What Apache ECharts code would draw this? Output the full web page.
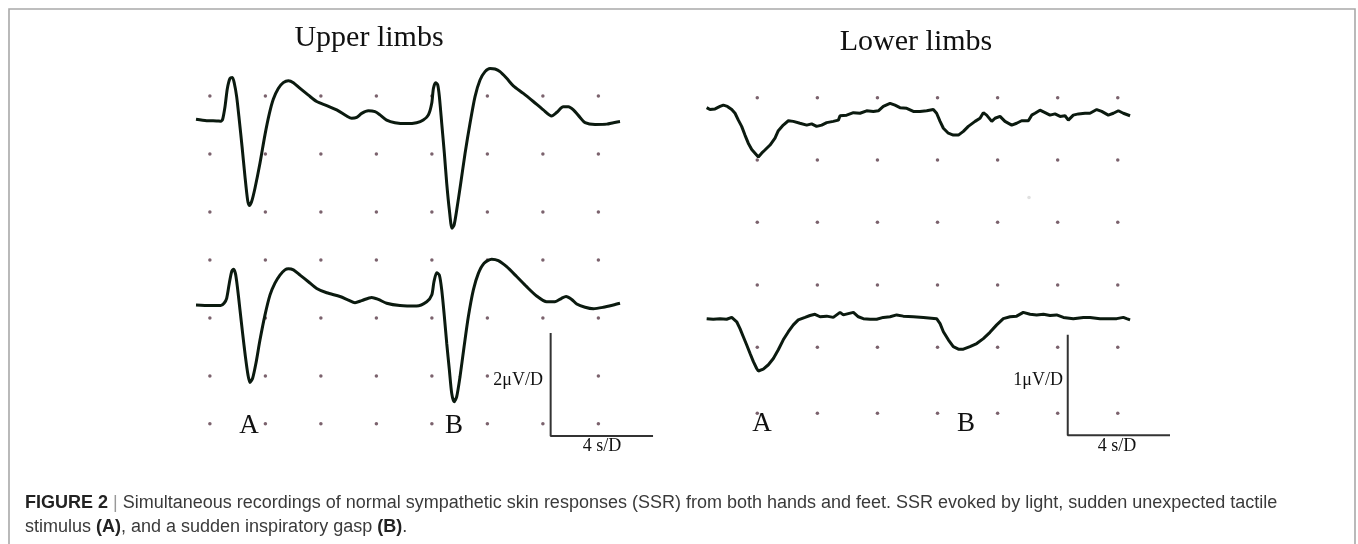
<!DOCTYPE html>
<html><head><meta charset="utf-8">
<script src="https://cdn.jsdelivr.net/npm/echarts/dist/echarts.min.js"></script>
<style>html,body{margin:0;padding:0;background:#fff}#c{width:1358px;height:544px}</style>
</head><body><div id="c"></div>
<script>
// ---- data (time in s, amplitude in µV) ----
const upperTrace1 = [[0,1.20],[0.77,1.15],[1.49,1.14],[1.78,1.13],[1.92,1.20],[2.09,1.63],[2.26,2.26],[2.45,2.61],[2.62,2.64],[2.76,2.44],[2.93,1.98],[3.12,1.17],[3.32,0.25],[3.53,-0.78],[3.72,-1.59],[3.84,-1.78],[4.01,-1.64],[4.25,-1.18],[4.61,-0.32],[4.97,0.66],[5.29,1.40],[5.57,1.89],[5.93,2.26],[6.29,2.46],[6.66,2.53],[7.02,2.46],[7.50,2.26],[8.10,2.03],[8.70,1.81],[9.42,1.67],[10.14,1.52],[10.86,1.31],[11.22,1.23],[11.58,1.26],[11.94,1.40],[12.42,1.49],[12.90,1.46],[13.26,1.35],[13.74,1.17],[14.34,1.08],[15.18,1.05],[15.90,1.08],[16.38,1.17],[16.75,1.35],[16.99,1.75],[17.11,2.26],[17.27,2.46],[17.42,2.38],[17.54,1.98],[17.71,1.06],[17.90,0.02],[18.07,-1.01],[18.26,-1.93],[18.45,-2.56],[18.60,-2.45],[18.79,-1.93],[19.08,-1.01],[19.39,0.02],[19.75,1.06],[20.11,1.98],[20.47,2.55],[20.83,2.84],[21.19,2.95],[21.55,2.93],[21.91,2.84],[22.39,2.61],[22.87,2.35],[23.59,2.09],[24.31,1.81],[25.03,1.52],[25.63,1.31],[25.99,1.43],[26.47,1.63],[26.84,1.63],[27.20,1.52],[27.68,1.26],[28.04,1.08],[28.76,1.02],[29.60,1.03],[30.08,1.08],[30.56,1.12]];
const upperTrace2 = [[0,0.45],[1.01,0.43],[1.78,0.43],[2.02,0.51],[2.21,0.68],[2.40,1.20],[2.57,1.60],[2.69,1.68],[2.84,1.54],[2.98,1.08],[3.17,0.28],[3.36,-0.53],[3.56,-1.33],[3.75,-1.97],[3.89,-2.22],[4.08,-2.08],[4.32,-1.56],[4.61,-0.76],[4.97,0.10],[5.33,0.79],[5.69,1.20],[6.05,1.48],[6.41,1.66],[6.66,1.70],[7.02,1.66],[7.50,1.48],[8.10,1.25],[8.70,1.02],[9.42,0.87],[10.38,0.74],[10.98,0.62],[11.46,0.53],[11.94,0.60],[12.66,0.71],[13.14,0.64],[13.74,0.51],[14.70,0.43],[15.90,0.41],[16.63,0.56],[16.99,0.79],[17.15,1.25],[17.35,1.56],[17.54,1.48],[17.71,0.97],[17.90,0.05],[18.07,-0.87],[18.26,-1.79],[18.43,-2.60],[18.60,-2.89],[18.79,-2.71],[19.03,-2.02],[19.32,-0.99],[19.63,0.05],[19.99,0.97],[20.35,1.54],[20.76,1.89],[21.31,2.03],[21.79,1.98],[22.39,1.77],[23.11,1.43],[23.83,1.08],[24.55,0.76],[25.27,0.56],[25.87,0.56],[26.35,0.68],[26.67,0.74],[27.08,0.64],[27.44,0.48],[28.04,0.37],[28.64,0.32],[29.36,0.37],[30.08,0.45],[30.56,0.51]];
const lowerTrace1 = [[0.63,0.84],[0.85,0.81],[1.19,0.82],[1.52,0.86],[1.74,0.88],[2.01,0.86],[2.30,0.81],[2.52,0.75],[2.74,0.64],[2.96,0.54],[3.18,0.40],[3.40,0.27],[3.63,0.17],[3.85,0.11],[4.07,0.05],[4.29,0.11],[4.51,0.16],[4.85,0.24],[5.18,0.35],[5.40,0.47],[5.73,0.56],[6.07,0.63],[6.40,0.62],[6.84,0.59],[7.29,0.56],[7.62,0.58],[7.95,0.54],[8.29,0.56],[8.62,0.60],[9.06,0.62],[9.40,0.64],[9.51,0.71],[9.95,0.72],[10.40,0.76],[10.84,0.75],[11.28,0.79],[11.73,0.78],[12.06,0.79],[12.39,0.86],[12.84,0.91],[13.17,0.88],[13.50,0.84],[13.95,0.83],[14.39,0.78],[14.83,0.78],[15.28,0.79],[15.72,0.81],[15.94,0.75],[16.17,0.62],[16.39,0.51],[16.72,0.43],[17.05,0.40],[17.39,0.40],[17.72,0.46],[18.05,0.54],[18.50,0.62],[18.83,0.67],[19.05,0.76],[19.27,0.72],[19.61,0.62],[19.83,0.67],[20.16,0.70],[20.49,0.62],[20.94,0.56],[21.27,0.59],[21.60,0.63],[22.05,0.63],[22.27,0.72],[22.49,0.75],[22.82,0.80],[23.16,0.76],[23.49,0.72],[23.82,0.74],[24.16,0.70],[24.49,0.71],[24.71,0.64],[25.04,0.72],[25.38,0.74],[25.82,0.75],[26.15,0.75],[26.60,0.81],[26.93,0.78],[27.37,0.72],[27.71,0.75],[28.04,0.79],[28.37,0.75],[28.82,0.71]];
const lowerTrace2 = [[0.63,-0.54],[1.07,-0.55],[1.52,-0.54],[1.96,-0.55],[2.30,-0.52],[2.63,-0.59],[2.85,-0.70],[3.07,-0.83],[3.29,-0.96],[3.52,-1.10],[3.74,-1.23],[3.96,-1.34],[4.07,-1.38],[4.40,-1.35],[4.74,-1.28],[5.07,-1.18],[5.40,-1.04],[5.73,-0.88],[6.07,-0.75],[6.40,-0.64],[6.73,-0.56],[7.18,-0.52],[7.51,-0.49],[7.84,-0.47],[8.18,-0.51],[8.62,-0.50],[9.06,-0.52],[9.51,-0.44],[9.73,-0.48],[10.06,-0.46],[10.40,-0.44],[10.73,-0.51],[11.06,-0.54],[11.51,-0.55],[11.95,-0.55],[12.39,-0.52],[12.84,-0.51],[13.28,-0.48],[13.72,-0.50],[14.39,-0.51],[15.06,-0.52],[15.94,-0.54],[16.17,-0.62],[16.39,-0.75],[16.72,-0.88],[17.05,-0.99],[17.39,-1.03],[17.72,-1.03],[18.16,-0.99],[18.61,-0.94],[19.05,-0.86],[19.49,-0.76],[19.94,-0.64],[20.38,-0.54],[20.83,-0.51],[21.27,-0.50],[21.71,-0.44],[22.16,-0.47],[22.60,-0.48],[23.05,-0.47],[23.49,-0.49],[23.93,-0.48],[24.38,-0.52],[25.04,-0.54],[25.71,-0.52],[26.15,-0.52],[26.82,-0.54],[27.48,-0.54],[27.93,-0.54],[28.37,-0.52],[28.59,-0.54],[28.82,-0.56]];

// dot grid (divisions): 4 s/D horizontally, 2 µV/D (upper) and 1 µV/D (lower) vertically
const upperDotTimes = [1,5,9,13,17,21,25,29];
const upperDotLevels1 = [2,0,-2];
const upperDotLevels2 = [2,0,-2,-3.65];
const lowerDotTimes = [4,8,12,16,20,24,28];
const lowerDotLevels1 = [1,0,-1];
const lowerDotLevels2 = [0,-1,-2.06];
const lowerStrayDot = [[22.09,-0.6]];

// calibration bars [time, µV]
const upperScaleBar = [[25.56,-0.52],[25.56,-4.07],[32.94,-4.07]];
const lowerScaleBar = [[24.67,-0.80],[24.67,-2.41],[31.48,-2.41]];

// texts
const panelTitles = ['Upper limbs','Lower limbs'];
const stimulusLabels = ['A','B'];
const upperScaleLabels = ['2μV/D','4 s/D'];
const lowerScaleLabels = ['1μV/D','4 s/D'];
const captionLine1 = ['FIGURE 2',' | ','Simultaneous recordings of normal sympathetic skin responses (SSR) from both hands and feet. SSR evoked by light, sudden unexpected tactile'];
const captionLine2 = ['stimulus ','(A)',', and a sudden inspiratory gasp ','(B)','.'];

// ---- chart ----
const cross = (ts, vs) => ts.flatMap(t => vs.map(v => [t, v]));
const chart = echarts.init(document.getElementById('c'), null, {renderer:'canvas'});
const traceStyle = {color:'#0b1a0f', width:3};
const dotColor = '#5a3b48';
const serif = "'Liberation Serif','Times New Roman',serif";
const sans = "'Liberation Sans',Arial,sans-serif";

function lineS(idx, data, smooth){
  return {type:'line', xAxisIndex:idx, yAxisIndex:idx, data, smooth, symbol:'none', lineStyle:traceStyle, z:5, clip:false, silent:true};
}
function dotS(idx, data, color){
  return {type:'scatter', xAxisIndex:idx, yAxisIndex:idx, data, symbolSize:3.5, itemStyle:{color:color||dotColor}, z:2, silent:true};
}
function barS(idx, data){
  return {type:'line', xAxisIndex:idx, yAxisIndex:idx, data, symbol:'none', lineStyle:{color:'#333', width:2}, z:3, clip:false, silent:true};
}

const txt = (x, y, text, size, extra) => ({type:'text', x, y, z:10, silent:true, style:Object.assign({text, fontFamily:serif, fontSize:size, fill:'#111', align:'center', verticalAlign:'middle'}, extra||{})});

chart.setOption({
  animation:false,
  grid:[
    {left:196, top:52.5, width:457.875, height:188.5},
    {left:196, top:245.5, width:457.875, height:203},
    {left:697.2, top:85.24, width:480.64, height:149.52},
    {left:697.2, top:210.24, width:480.64, height:236.74}
  ],
  xAxis:[
    {gridIndex:0, type:'value', min:0, max:33, show:false},
    {gridIndex:1, type:'value', min:0, max:33, show:false},
    {gridIndex:2, type:'value', min:0, max:32, show:false},
    {gridIndex:3, type:'value', min:0, max:32, show:false}
  ],
  yAxis:[
    {gridIndex:0, type:'value', min:-3, max:3.5, show:false},
    {gridIndex:1, type:'value', min:-4.5, max:2.5, show:false},
    {gridIndex:2, type:'value', min:-1.2, max:1.2, show:false},
    {gridIndex:3, type:'value', min:-2.6, max:1.2, show:false}
  ],
  series:[
    dotS(0, cross(upperDotTimes, upperDotLevels1)),
    dotS(1, cross(upperDotTimes, upperDotLevels2)),
    dotS(2, cross(lowerDotTimes, lowerDotLevels1)),
    dotS(3, cross(lowerDotTimes, lowerDotLevels2)),
    dotS(2, lowerStrayDot, '#d8d8d8'),
    barS(1, upperScaleBar),
    barS(3, lowerScaleBar),
    lineS(0, upperTrace1, 0.25),
    lineS(1, upperTrace2, 0.25),
    lineS(2, lowerTrace1, false),
    lineS(3, lowerTrace2, false)
  ],
  graphic:[
    {type:'rect', silent:true, shape:{x:9, y:9, width:1346, height:620}, style:{fill:'none', stroke:'#a9a9a9', lineWidth:1.6}},
    txt(369, 38, panelTitles[0], 30),
    txt(916, 42, panelTitles[1], 30),
    txt(249, 426, stimulusLabels[0], 27),
    txt(454, 426, stimulusLabels[1], 27),
    txt(762, 424, stimulusLabels[0], 27),
    txt(966, 424, stimulusLabels[1], 27),
    txt(547, 380, upperScaleLabels[0], 18, {align:'right', backgroundColor:'#fff', padding:[2,4,2,0]}),
    txt(602, 446, upperScaleLabels[1], 18),
    txt(1063, 380, lowerScaleLabels[0], 18, {align:'right'}),
    txt(1117, 446, lowerScaleLabels[1], 18),
    {type:'text', x:25, y:503, z:10, silent:true, style:{
      text:'{b|'+captionLine1[0]+'}{s|'+captionLine1[1]+'}{n|'+captionLine1[2]+'}',
      fontFamily:sans, fontSize:18, verticalAlign:'middle',
      rich:{b:{fontWeight:'bold', fill:'#222', fontFamily:sans, fontSize:18}, s:{fill:'#999', fontFamily:sans, fontSize:18}, n:{fill:'#3a3a3a', fontFamily:sans, fontSize:18}}
    }},
    {type:'text', x:25, y:527, z:10, silent:true, style:{
      text:'{n|'+captionLine2[0]+'}{b|'+captionLine2[1]+'}{n|'+captionLine2[2]+'}{b|'+captionLine2[3]+'}{n|'+captionLine2[4]+'}',
      fontFamily:sans, fontSize:18, verticalAlign:'middle',
      rich:{b:{fontWeight:'bold', fill:'#222', fontFamily:sans, fontSize:18}, n:{fill:'#3a3a3a', fontFamily:sans, fontSize:18}}
    }}
  ]
});
</script></body></html>
